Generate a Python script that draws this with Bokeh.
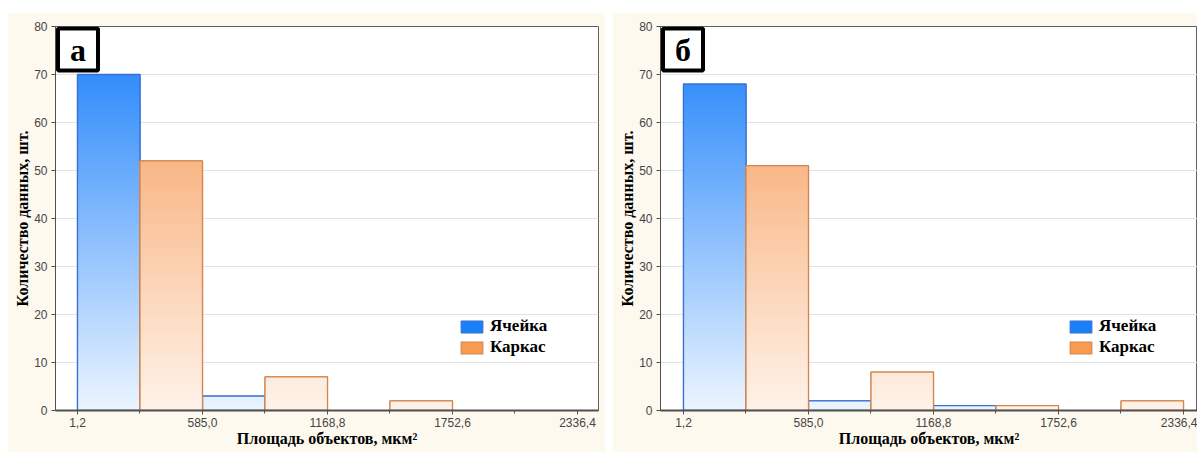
import numpy as np
from bokeh.plotting import figure
from bokeh.layouts import row, column
from bokeh.models import (FixedTicker, CustomJSTickFormatter, Legend, LegendItem, Label, Spacer)
from bokeh.embed import file_html
from bokeh.resources import INLINE

# ---- data ----
x_ticks = [1.2, 585.0, 1168.8, 1752.6, 2336.4]
y_ticks = [0, 10, 20, 30, 40, 50, 60, 70, 80]
series_names = ["Ячейка", "Каркас"]
cell_a = [70, 3, 0, 0]
frame_a = [52, 7, 2, 0]
cell_b = [68, 2, 1, 0]
frame_b = [51, 8, 1, 2]
panel_labels = ["а", "б"]
x_title = "Площадь объектов, мкм²"
y_title = "Количество данных, шт."

# ---- style ----
CREAM = "#fdf9ee"
BLUE_TOP, BLUE_BOT = (24, 126, 251), (236, 245, 254)
ORNG_TOP, ORNG_BOT = (246, 150, 80), (254, 243, 234)
BLUE_LINE, ORNG_LINE = "#3b6fd4", "#d4864e"
BLUE_SOLID, ORNG_SOLID = "#1a80f8", "#f89a50"
AXIS_COL = "#505050"
YMAX = 80.0


def gradient_bars(p, lefts, rights, heights, top, bot, line_col, solid_col):
    lf = [l for l, h in zip(lefts, heights) if h > 0]
    rt = [r for r, h in zip(rights, heights) if h > 0]
    hh = [h for h in heights if h > 0]
    solid = p.quad(left=lf, right=rt, bottom=0, top=hh, fill_color=solid_col,
                   line_color=line_col, line_width=1.2)
    imgs, xs, ws = [], [], []
    top = np.array(top, dtype=float)
    bot = np.array(bot, dtype=float)
    for l, r, h in zip(lf, rt, hh):
        n = int(h * 12)
        ys = (np.arange(n) + 0.5) / n * h
        t = np.clip(ys / YMAX, 0, 1)[:, None]
        rgb = np.round(bot + (top - bot) * t).astype(np.uint8)
        img = np.zeros((n, 1), dtype=np.uint32)
        v = img.view(dtype=np.uint8).reshape((n, 1, 4))
        v[:, 0, 0] = rgb[:, 0]
        v[:, 0, 1] = rgb[:, 1]
        v[:, 0, 2] = rgb[:, 2]
        v[:, 0, 3] = 255
        imgs.append(img)
        xs.append(l)
        ws.append(r - l)
    p.image_rgba(image=imgs, x=xs, y=[0] * len(xs), dw=ws, dh=hh)
    p.quad(left=lf, right=rt, bottom=0, top=hh, fill_alpha=0,
           line_color=line_col, line_width=1.3)
    return solid


def make(panel, cell, frame, width, bl, br, xs, xe, leg_x):
    p = figure(width=width, height=440, x_range=(xs, xe), y_range=(0, YMAX),
               output_backend="svg", toolbar_location=None,
               min_border_left=bl, min_border_right=br,
               min_border_top=14, min_border_bottom=42)
    p.border_fill_color = CREAM
    p.background_fill_color = "white"
    p.outline_line_color = "#606060"
    p.outline_line_width = 1

    edges = np.array(x_ticks)
    half = (edges[1] - edges[0]) / 2
    lefts = edges[:-1]
    mids = lefts + half
    rights = edges[1:]

    r_cell = gradient_bars(p, lefts, mids, cell, BLUE_TOP, BLUE_BOT, BLUE_LINE, BLUE_SOLID)
    r_frame = gradient_bars(p, mids, rights, frame, ORNG_TOP, ORNG_BOT, ORNG_LINE, ORNG_SOLID)

    # axes
    p.xaxis.ticker = FixedTicker(ticks=x_ticks, minor_ticks=list(mids))
    p.xaxis.formatter = CustomJSTickFormatter(code="return tick.toFixed(1).replace('.', ',');")
    p.yaxis.ticker = FixedTicker(ticks=y_ticks)
    for ax in (p.xaxis[0], p.yaxis[0]):
        ax.axis_line_color = AXIS_COL
        ax.major_tick_line_color = AXIS_COL
        ax.minor_tick_line_color = AXIS_COL
        ax.major_tick_in = 0
        ax.major_tick_out = 4
        ax.minor_tick_in = 0
        ax.minor_tick_out = 3
        ax.major_label_text_font = "Liberation Sans"
        ax.major_label_text_font_size = "12px"
        ax.major_label_text_color = "#454545"
        ax.axis_label_text_font = "Liberation Serif"
        ax.axis_label_text_font_style = "bold"
        ax.axis_label_text_color = "black"
    p.xaxis.axis_line_width = 2
    p.xaxis.major_label_standoff = 3
    p.xaxis.axis_label_standoff = 0
    p.xaxis.axis_label = x_title
    p.xaxis.axis_label_text_font_size = "16px"
    p.yaxis.major_label_standoff = 4
    p.yaxis.axis_label_standoff = 0
    p.yaxis.axis_label = y_title
    p.yaxis.axis_label_text_font_size = "16px"

    p.xgrid.grid_line_color = None
    p.ygrid.grid_line_color = "#e2e2e2"
    p.ygrid.ticker = FixedTicker(ticks=y_ticks)

    leg = Legend(items=[LegendItem(label=series_names[0], renderers=[r_cell]),
                        LegendItem(label=series_names[1], renderers=[r_frame])],
                 location=(leg_x, 53), orientation="vertical",
                 glyph_width=27, glyph_height=15, label_standoff=5, spacing=1,
                 padding=0, margin=0, background_fill_alpha=0, border_line_color=None,
                 label_text_font="Liberation Serif", label_text_font_style="bold",
                 label_text_font_size="17px", label_text_color="black",
                 label_height=15)
    p.add_layout(leg, "center")

    lab = Label(x=xs, y=YMAX, text=panel, x_offset=22.5, y_offset=-23,
                text_align="center", text_baseline="middle",
                text_font="Liberation Serif", text_font_style="bold",
                text_font_size="32px", text_color="black",
                background_fill_color="white", border_line_color="black",
                border_line_width=4, padding=(12, 3))
    p.add_layout(lab)
    return p


pa = make(panel_labels[0], cell_a, frame_a, 598, 48, 7, -101.55, 2434.5, 403)
pb = make(panel_labels[1], cell_b, frame_b, 585, 48, 0, -106.2, 2401.8, 407)

layout = column(Spacer(height=12),
                row(Spacer(width=7), pa, Spacer(width=7), pb, spacing=0),
                spacing=0)
open("out.html", "w").write(file_html(layout, INLINE))
